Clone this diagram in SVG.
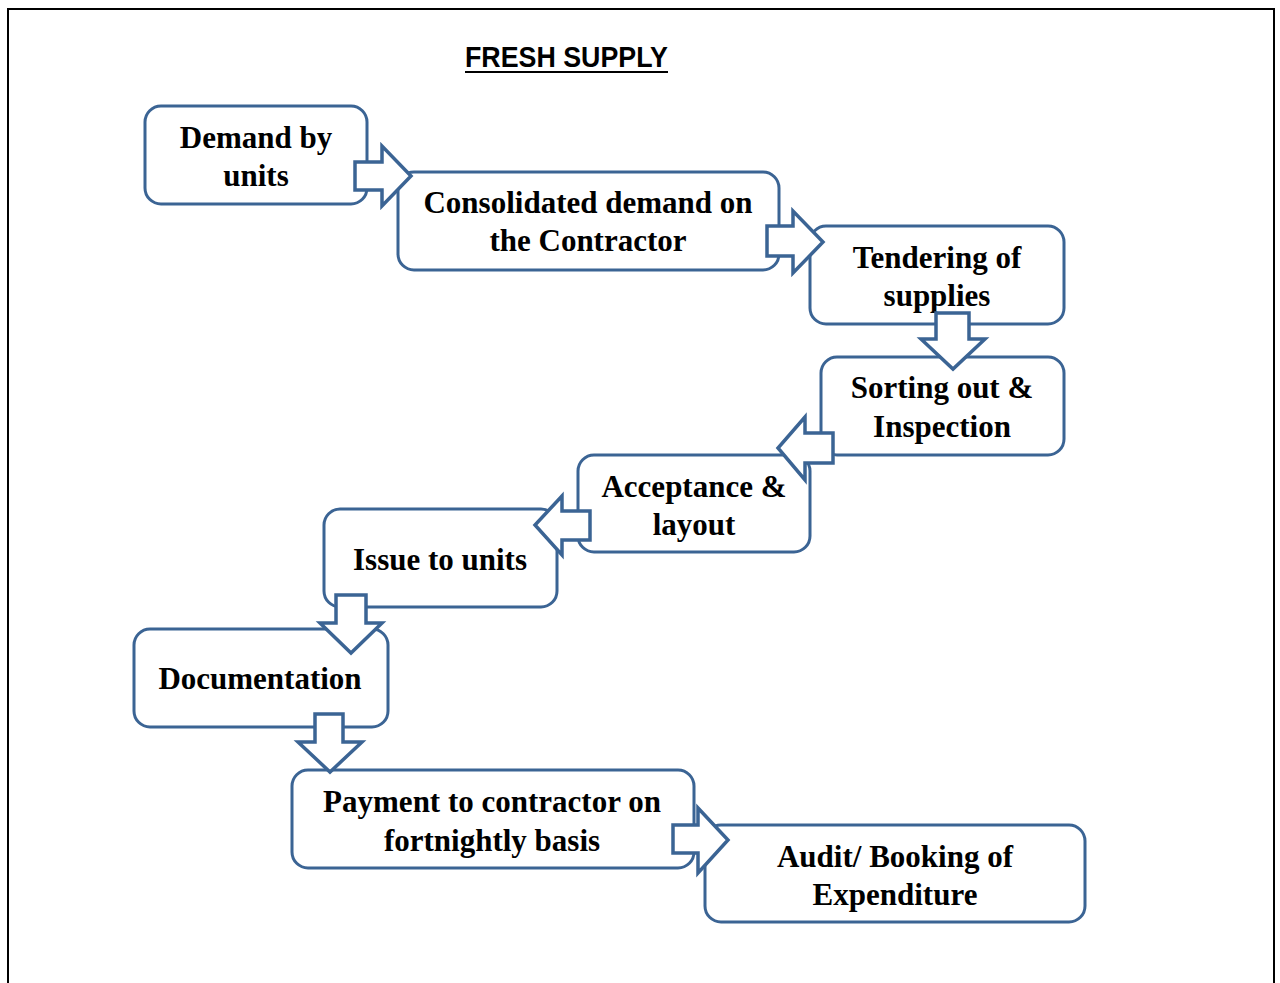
<svg xmlns="http://www.w3.org/2000/svg" width="1280" height="983" viewBox="0 0 1280 983">
<style>
.box{fill:#fff;stroke:#3b6494;stroke-width:3}
.arr{fill:#fff;stroke:#3b6494;stroke-width:3.5;stroke-linejoin:miter}
.t{font-family:"Liberation Serif","Times New Roman",serif;font-weight:bold;font-size:31px;fill:#000;text-anchor:middle}
.title{font-family:"Liberation Sans",Arial,sans-serif;font-weight:bold;font-size:29px;fill:#000}
</style>
<rect x="0" y="0" width="1280" height="983" fill="#fff"/>
<path d="M8 990 V9 H1274 V990" fill="none" stroke="#000" stroke-width="2"/>
<g id="title">
<text class="title" x="465" y="67" textLength="203" lengthAdjust="spacingAndGlyphs">FRESH SUPPLY</text>
<line x1="465" y1="72" x2="668" y2="72" stroke="#000" stroke-width="2"/>
</g>
<g id="n1"><rect class="box" x="145" y="106" width="222" height="98" rx="16"/>
<text class="t" x="256" y="148">Demand by</text><text class="t" x="256" y="186">units</text></g>
<g id="n2"><rect class="box" x="398" y="172" width="381" height="98" rx="16"/>
<text class="t" x="588" y="213">Consolidated demand on</text><text class="t" x="588" y="251">the Contractor</text></g>
<g id="n3"><rect class="box" x="810" y="226" width="254" height="98" rx="16"/>
<text class="t" x="937" y="268">Tendering of</text><text class="t" x="937" y="306">supplies</text></g>
<g id="n4"><rect class="box" x="821" y="357" width="243" height="98" rx="16"/>
<text class="t" x="942" y="398">Sorting out &amp;</text><text class="t" x="942" y="437">Inspection</text></g>
<g id="n5"><rect class="box" x="578" y="455" width="232" height="97" rx="16"/>
<text class="t" x="694" y="497">Acceptance &amp;</text><text class="t" x="694" y="535">layout</text></g>
<g id="n6"><rect class="box" x="324" y="509" width="233" height="98" rx="16"/>
<text class="t" x="440" y="570">Issue to units</text></g>
<g id="n7"><rect class="box" x="134" y="629" width="254" height="98" rx="16"/>
<text class="t" x="260" y="689">Documentation</text></g>
<g id="n8"><rect class="box" x="292" y="770" width="402" height="98" rx="16"/>
<text class="t" x="492" y="812">Payment to contractor on</text><text class="t" x="492" y="851">fortnightly basis</text></g>
<g id="n9"><rect class="box" x="705" y="825" width="380" height="97" rx="16"/>
<text class="t" x="895" y="867">Audit/ Booking of</text><text class="t" x="895" y="905">Expenditure</text></g>
<g id="connectors">
<polygon class="arr" points="355,162 382,162 382,146 411,176 382,206 382,190 355,190"/>
<polygon class="arr" points="767,226 793,226 793,211 823,242 793,273 793,256 767,256"/>
<polygon class="arr" points="936,313 969,313 969,339 985,339 953,369 921,339 936,339"/>
<polygon class="arr" points="833,433 833,463 805,463 805,480 778,448 805,417 805,433"/>
<polygon class="arr" points="590,511 590,540 562,540 562,555 535,525 562,496 562,511"/>
<polygon class="arr" points="336,595 366,595 366,623 382,623 351,653 320,623 336,623"/>
<polygon class="arr" points="315,714 343,714 343,742 362,742 330,772 298,742 315,742"/>
<polygon class="arr" points="673,825 698,825 698,808 728,840 698,873 698,853 673,853"/>
</g>
</svg>
